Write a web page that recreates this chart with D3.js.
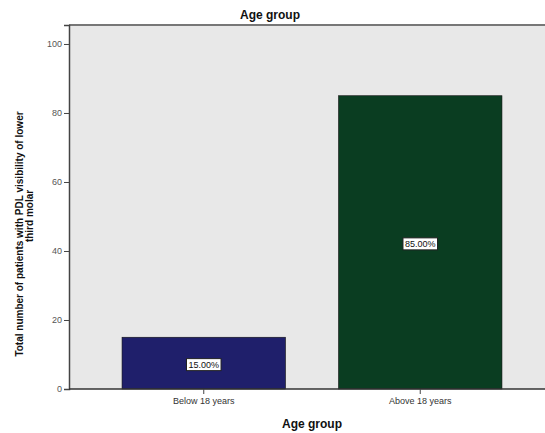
<!DOCTYPE html>
<html><head><meta charset="utf-8">
<script src="https://cdn.jsdelivr.net/npm/d3@7/dist/d3.min.js"></script>
<style>body{margin:0;background:#fff}svg{display:block;font-family:"Liberation Sans",Arial,sans-serif}</style>
</head><body>
<svg id="c" width="545" height="433"></svg>
<script>
const categories = ["Below 18 years", "Above 18 years"];
const values = [15, 85];
const barLabels = ["15.00%", "85.00%"];
const yTicks = [0, 20, 40, 60, 80, 100];
const colors = ["#1f1f6b", "#0a3d21"];

const svg = d3.select("#c");
const L = 69, R = 555, T = 25, B = 389;
const x = d3.scaleBand().domain(categories).range([L, R]).paddingInner(0.245).paddingOuter(0.245);
const y = d3.scaleLinear().domain([0, 105.5]).range([B, T]);

svg.append("rect").attr("x", L).attr("y", T).attr("width", R - L).attr("height", B - T).attr("fill", "#e8e8e8");
svg.append("line").attr("x1", L).attr("x2", R).attr("y1", T).attr("y2", T).attr("stroke", "#777").attr("stroke-width", 2);

svg.selectAll(".bar").data(values).join("rect")
  .attr("x", (d, i) => x(categories[i]))
  .attr("y", d => y(d))
  .attr("width", x.bandwidth())
  .attr("height", d => y(0) - y(d))
  .attr("fill", (d, i) => colors[i])
  .attr("stroke", "#111").attr("stroke-width", 0.6);

const ya = svg.append("g").attr("transform", `translate(${L},0)`)
  .call(d3.axisLeft(y).tickValues(yTicks).tickSize(5).tickPadding(2));
ya.select(".domain").attr("stroke", "#444").attr("stroke-width", 1.5);
ya.selectAll(".tick line").attr("stroke", "#444");
ya.selectAll("text").attr("font-size", 9).attr("fill", "#555").attr("font-family", "Liberation Sans, Arial");

const xa = svg.append("g").attr("transform", `translate(0,${B})`)
  .call(d3.axisBottom(x).tickSize(5).tickPadding(4));
xa.select(".domain").attr("stroke", "#333").attr("stroke-width", 1.5).attr("d", `M${L},0H${R}`);
xa.selectAll(".tick line").attr("stroke", "#444");
xa.selectAll("text").attr("font-size", 9).attr("fill", "#333").attr("font-family", "Liberation Sans, Arial");

values.forEach((v, i) => {
  const cx = x(categories[i]) + x.bandwidth() / 2;
  const cy = (y(v) + y(0)) / 2 + 1;
  const g = svg.append("g");
  const t = g.append("text").attr("x", cx).attr("y", cy + 3.5).attr("text-anchor", "middle")
    .attr("font-size", 9).attr("fill", "#111").text(barLabels[i]);
  const bb = t.node().getBBox();
  g.insert("rect", "text").attr("x", bb.x - 2).attr("y", bb.y - 1).attr("width", bb.width + 4).attr("height", bb.height + 2)
    .attr("fill", "#fff").attr("stroke", "#222").attr("stroke-width", 1);
});

svg.append("text").attr("x", 270).attr("y", 19).attr("text-anchor", "middle")
  .attr("font-size", 12).attr("font-weight", "bold").attr("fill", "#111").text("Age group");
svg.append("text").attr("x", (L + R) / 2).attr("y", 428).attr("text-anchor", "middle")
  .attr("font-size", 12).attr("font-weight", "bold").attr("fill", "#111").text("Age group");

svg.append("text").attr("transform", "translate(23,234) rotate(-90)").attr("text-anchor", "middle")
  .attr("font-size", 10).attr("font-weight", "bold").attr("fill", "#111")
  .text("Total number of patients with PDL visibility of lower");
svg.append("text").attr("transform", "translate(33,216) rotate(-90)").attr("text-anchor", "middle")
  .attr("font-size", 10).attr("font-weight", "bold").attr("fill", "#111")
  .text("third molar");
</script>
</body></html>
